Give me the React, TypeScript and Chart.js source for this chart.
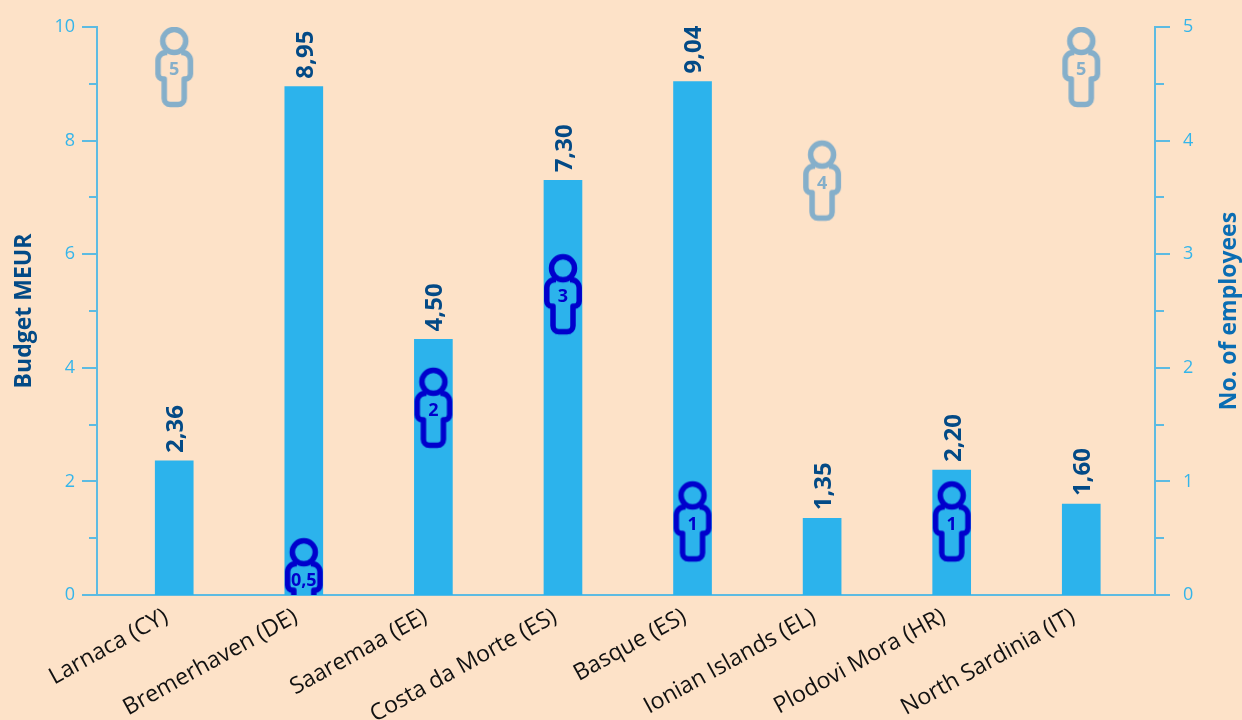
import React, { useEffect, useRef } from "react";
import { Chart, registerables } from "chart.js";

Chart.register(...registerables);

const categories = ["Larnaca (CY)", "Bremerhaven (DE)", "Saaremaa (EE)", "Costa da Morte (ES)", "Basque (ES)", "Ionian Islands (EL)", "Plodovi Mora (HR)", "North Sardinia (IT)"];
const budget = [2.36, 8.95, 4.5, 7.3, 9.04, 1.35, 2.2, 1.6];
const employees = [5, 0.5, 2, 3, 1, 4, 1, 5];
const employeeLabels = ["5", "0,5", "2", "3", "1", "4", "1", "5"];
const leftTitle = "Budget MEUR";
const rightTitle = "No. of employees";

const BG = "#FDE2C8";
const BAR = "#2CB3EC";
const AXIS = "#5DBBE2";
const TICKTEXT = "#35B5EA";
const DARK = "#034A86";
const RIGHTTITLE = "#0A6DB3";
const PALE = "#85AFCA";
const DEEP = "#0000CC";
const FONT = "'Open Sans'";

function personIcon(color: string) {
  const c = document.createElement("canvas");
  c.width = 50;
  c.height = 170;
  const g = c.getContext("2d")!;
  const cx = 25;
  const oy = 85;
  g.strokeStyle = color;
  g.lineWidth = 5.5;
  g.lineJoin = "round";
  g.beginPath();
  g.arc(cx, oy + 14, 11.5, 0, Math.PI * 2);
  g.stroke();
  const w = 16.2;
  const leg = 10;
  const top = oy + 25.5;
  const mid = oy + 52;
  const bot = oy + 77.5;
  g.beginPath();
  g.moveTo(cx - 7, top);
  g.lineTo(cx - w + 8, top);
  g.arcTo(cx - w, top, cx - w, top + 8, 8);
  g.lineTo(cx - w, mid - 5);
  g.arcTo(cx - w, mid, cx - w + 5, mid, 5);
  g.lineTo(cx - leg, mid);
  g.lineTo(cx - leg, bot - 6);
  g.arcTo(cx - leg, bot, cx - leg + 6, bot, 6);
  g.lineTo(cx + leg - 6, bot);
  g.arcTo(cx + leg, bot, cx + leg, bot - 6, 6);
  g.lineTo(cx + leg, mid);
  g.lineTo(cx + w - 5, mid);
  g.arcTo(cx + w, mid, cx + w, mid - 5, 5);
  g.lineTo(cx + w, top + 8);
  g.arcTo(cx + w, top, cx + w - 8, top, 8);
  g.lineTo(cx + 7, top);
  g.stroke();
  return c;
}

const annotate = {
  id: "annotate",
  afterDatasetsDraw(chart: any) {
    const ctx = chart.ctx;
    const area = chart.chartArea;
    const x = chart.scales.x;
    const y = chart.scales.y;
    const y1 = chart.scales.y1;
    ctx.save();
    ctx.strokeStyle = AXIS;
    ctx.lineWidth = 2;
    y.ticks.forEach((t: any) => {
      const py = Math.round(y.getPixelForValue(t.value));
      const len = t.value % 2 === 0 ? 15 : 8;
      ctx.beginPath();
      ctx.moveTo(area.left - len, py);
      ctx.lineTo(area.left, py);
      ctx.stroke();
    });
    y1.ticks.forEach((t: any) => {
      const py = Math.round(y1.getPixelForValue(t.value));
      const len = t.value % 1 === 0 ? 15 : 9;
      ctx.beginPath();
      ctx.moveTo(area.right, py);
      ctx.lineTo(area.right + len, py);
      ctx.stroke();
    });
    ctx.fillStyle = DARK;
    ctx.font = `bold 24px ${FONT}`;
    ctx.textAlign = "left";
    ctx.textBaseline = "middle";
    budget.forEach((v, i) => {
      ctx.save();
      ctx.translate(x.getPixelForValue(i) + 2, y.getPixelForValue(v) - 8);
      ctx.rotate(-Math.PI / 2);
      ctx.fillText(v.toFixed(2).replace(".", ","), 0, 0);
      ctx.restore();
    });
    ctx.textAlign = "center";
    ctx.font = `bold 18px ${FONT}`;
    employees.forEach((v, i) => {
      ctx.fillStyle = v >= 4 ? PALE : DEEP;
      ctx.fillText(employeeLabels[i], x.getPixelForValue(i), y1.getPixelForValue(v) + 43);
    });
    ctx.save();
    ctx.translate(1229, (area.top + area.bottom) / 2);
    ctx.rotate(-Math.PI / 2);
    ctx.fillStyle = RIGHTTITLE;
    ctx.font = `bold 23px ${FONT}`;
    ctx.fillText(rightTitle, 0, 0);
    ctx.restore();
    ctx.restore();
  },
};

export default function App() {
  const ref = useRef<HTMLCanvasElement>(null);
  useEffect(() => {
    document.body.style.margin = "0";
    document.body.style.background = BG;
    const pale = personIcon(PALE);
    const deep = personIcon(DEEP);
    const noPad = (s: any) => {
      s.paddingTop = 0;
      s.paddingBottom = 0;
    };
    const chart = new Chart(ref.current!, {
      type: "bar",
      data: {
        datasets: [
          {
            type: "line",
            label: rightTitle,
            data: employees.map((v, i) => ({ x: i, y: v })),
            yAxisID: "y1",
            xAxisID: "x",
            showLine: false,
            order: 0,
            clip: 0,
            pointRadius: 12,
            pointStyle: employees.map((v) => (v >= 4 ? pale : deep)),
          },
          {
            type: "bar",
            label: leftTitle,
            data: budget.map((v, i) => ({ x: i, y: v })),
            yAxisID: "y",
            xAxisID: "x",
            backgroundColor: BAR,
            barThickness: 38,
            order: 1,
          },
        ],
      } as any,
      options: {
        responsive: false,
        animation: false,
        devicePixelRatio: 1,
        layout: { padding: { top: 27, left: 0, right: 0, bottom: 0 } },
        plugins: { legend: { display: false }, tooltip: { enabled: false } },
        scales: {
          x: {
            type: "linear",
            min: -0.596,
            max: 7.569,
            offset: false,
            z: 1,
            afterBuildTicks: (s: any) => {
              s.ticks = categories.map((_, i) => ({ value: i }));
            },
            afterFit: (s: any) => {
              s.height = 125;
              s.paddingLeft = 0;
              s.paddingRight = 0;
            },
            grid: { display: false, drawTicks: false, offset: false },
            border: { display: true, color: AXIS, width: 2 },
            ticks: {
              autoSkip: false,
              maxRotation: 29,
              minRotation: 29,
              padding: 8,
              labelOffset: -8,
              color: "#111111",
              font: { family: FONT, size: 23 },
              callback: (v: any) => categories[v],
            },
          },
          y: {
            position: "left",
            min: 0,
            max: 10,
            afterFit: (s: any) => {
              s.width = 97;
              noPad(s);
            },
            grid: { display: false, drawTicks: false },
            border: { display: true, color: AXIS, width: 2 },
            ticks: {
              stepSize: 1,
              autoSkip: false,
              padding: 22,
              color: TICKTEXT,
              font: { family: FONT, size: 18 },
              callback: (v: any) => (v % 2 === 0 ? String(v) : ""),
            },
            title: {
              display: true,
              text: leftTitle,
              color: DARK,
              padding: { top: 11, bottom: 0 },
              font: { family: FONT, size: 23, weight: "bold" },
            },
          },
          y1: {
            position: "right",
            min: 0,
            max: 5,
            afterFit: (s: any) => {
              s.width = 87;
              noPad(s);
            },
            grid: { display: false, drawTicks: false },
            border: { display: true, color: AXIS, width: 2 },
            ticks: {
              stepSize: 0.5,
              autoSkip: false,
              padding: 28,
              color: TICKTEXT,
              font: { family: FONT, size: 18 },
              callback: (v: any) => (v % 1 === 0 ? String(v) : ""),
            },
          },
        },
      } as any,
      plugins: [annotate],
    });
    return () => chart.destroy();
  }, []);
  return <canvas ref={ref} width={1242} height={720} style={{ display: "block" }} />;
}
